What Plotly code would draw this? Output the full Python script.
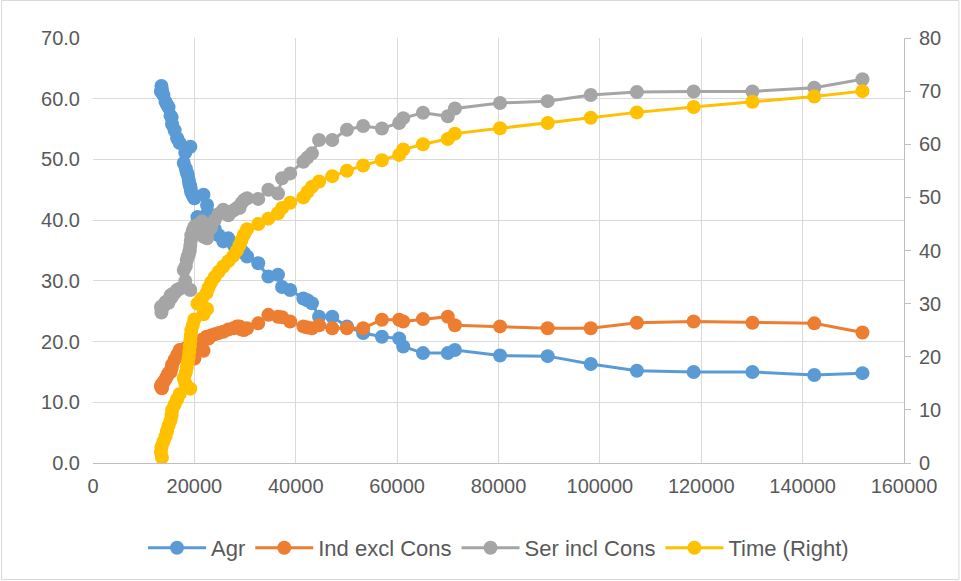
import plotly.graph_objects as go

# x values (income level) for each period
x_vals = [13600, 13400, 13500, 13900, 14300, 14600, 14900, 15300, 15500, 15600,
          16100, 16600, 17100, 19200, 18200, 17900, 18300, 18500, 18700, 18900,
          19000, 19100, 19200, 19300, 19400, 19700, 20000, 21800, 22500, 20600,
          21500, 22400, 22800, 23300, 24000, 24800, 25700, 26700, 27700, 28400,
          28900, 29300, 29800, 30400, 32600, 34600, 36500, 37300, 38900, 41500,
          42300, 43200, 44600, 47200, 50100, 53300, 57000, 60400, 61200, 65100,
          70000, 71400, 80300, 89700, 98200, 107300, 118500, 130100, 142300, 151800]

agr = [61.5, 61.2, 62.1, 60.6, 59.5, 59.0, 58.6, 57.2, 56.9, 55.8,
       54.8, 53.5, 52.7, 52.1, 51.1, 49.4, 48.5, 47.9, 47.4, 46.6,
       46.0, 45.8, 45.5, 45.0, 44.5, 44.0, 43.6, 44.2, 42.5, 40.5,
       39.7, 40.6, 41.1, 40.2, 38.6, 37.5, 36.5, 37.0, 36.0, 35.4,
       35.3, 35.0, 34.6, 34.0, 32.9, 30.7, 31.0, 29.0, 28.5, 27.1,
       26.8, 26.3, 24.1, 24.1, 22.5, 21.4, 20.8, 20.5, 19.2, 18.1,
       18.1, 18.6, 17.7, 17.6, 16.3, 15.2, 15.0, 15.0, 14.5, 14.8]

ind = [12.3, 12.6, 12.9, 13.3, 13.8, 14.3, 14.8, 15.0, 15.6, 16.2,
       17.0, 17.8, 18.6, 19.2, 18.8, 18.6, 18.9, 18.6, 18.5, 19.0,
       19.2, 19.0, 18.5, 18.0, 17.8, 17.5, 17.2, 18.5, 20.5, 20.0,
       20.3, 20.8, 20.5, 21.0, 21.2, 21.4, 21.6, 22.0, 22.2, 22.5,
       22.5, 22.0, 21.9, 22.2, 23.0, 24.4, 24.1, 24.0, 23.3, 22.5,
       22.3, 22.2, 22.7, 22.2, 22.2, 22.2, 23.6, 23.6, 23.3, 23.7,
       24.1, 22.7, 22.5, 22.2, 22.2, 23.1, 23.3, 23.1, 23.0, 21.5]

ser = [25.8, 25.7, 24.8, 25.8, 26.5, 26.5, 26.4, 27.6, 27.3, 27.8,
       28.0, 28.5, 28.7, 28.5, 30.0, 31.8, 32.4, 33.4, 34.0, 34.3,
       34.8, 35.1, 35.8, 36.6, 37.5, 38.3, 38.9, 37.3, 37.0, 39.2,
       39.8, 38.4, 38.3, 38.8, 40.0, 41.0, 41.7, 40.8, 41.6, 42.0,
       42.0, 42.8, 43.3, 43.6, 43.5, 45.0, 44.4, 46.9, 47.7, 49.6,
       50.3, 51.0, 53.2, 53.2, 54.9, 55.5, 55.1, 56.0, 56.8, 57.7,
       57.1, 58.4, 59.3, 59.6, 60.6, 61.1, 61.2, 61.2, 61.8, 63.2]

time_vals = [1, 2, 3, 4, 5, 6, 7, 8, 9, 10,
             11, 12, 13, 14, 15, 16, 17, 18, 19, 20,
             21, 22, 23, 24, 25, 26, 27, 28, 29, 30,
             31, 32, 33, 34, 35, 36, 37, 38, 39, 40,
             41, 42, 43, 44, 45, 46, 47, 48, 49, 50,
             51, 52, 53, 54, 55, 56, 57, 58, 59, 60,
             61, 62, 63, 64, 65, 66, 67, 68, 69, 70]

names = ["Agr", "Ind excl Cons", "Ser incl Cons", "Time (Right)"]
colors = ["#5B9BD5", "#ED7D31", "#A5A5A5", "#FFC000"]

FONT = "Liberation Sans, Arial, sans-serif"
TXT = "#595959"

fig = go.Figure()
for name, vals, col, yax in [(names[0], agr, colors[0], "y"),
                             (names[1], ind, colors[1], "y"),
                             (names[2], ser, colors[2], "y"),
                             (names[3], time_vals, colors[3], "y2")]:
    fig.add_trace(go.Scatter(x=x_vals, y=vals, name=name, yaxis=yax,
                             mode="lines+markers",
                             line=dict(color=col, width=3),
                             marker=dict(color=col, size=14)))

fig.update_layout(
    width=961, height=581,
    margin=dict(l=92.5, r=56.5, t=38, b=118, pad=0),
    paper_bgcolor="white", plot_bgcolor="white",
    font=dict(family=FONT, size=20, color=TXT),
    showlegend=True,
    legend=dict(orientation="h", x=0.5, xanchor="center", y=-0.2, yanchor="middle",
                font=dict(size=22, color=TXT), itemwidth=58,
                traceorder="normal"),
    xaxis=dict(range=[0, 160000], dtick=20000, tick0=0, tickformat="d",
               showgrid=True, gridcolor="#D9D9D9", gridwidth=1,
               showline=True, linecolor="#BFBFBF", linewidth=1,
               zeroline=False, ticks="", ticklabelstandoff=5,
               tickfont=dict(size=20, color=TXT)),
    yaxis=dict(range=[0, 70], dtick=10, tick0=0, tickformat=".1f",
               showgrid=True, gridcolor="#D9D9D9", gridwidth=1,
               showline=False, zeroline=False, ticks="", ticklabelstandoff=12,
               tickfont=dict(size=20, color=TXT)),
    yaxis2=dict(range=[0, 80], dtick=10, tick0=0, overlaying="y", side="right",
                showgrid=False, showline=True, linecolor="#BFBFBF", linewidth=1,
                zeroline=False, ticks="outside", ticklen=6, tickcolor="#BFBFBF",
                ticklabelstandoff=4, tickfont=dict(size=20, color=TXT)),
    shapes=[dict(type="rect", xref="paper", yref="paper",
                 x0=-91.5 / 812, x1=(959.5 - 92.5) / 812,
                 y0=-(116.5 / 425), y1=1 + 37.5 / 425,
                 line=dict(color="#D9D9D9", width=1), fillcolor="rgba(0,0,0,0)",
                 layer="below")],
)

fig.write_html("out.html", config={"displayModeBar": False},
               post_script="document.body.style.margin='0px';")
